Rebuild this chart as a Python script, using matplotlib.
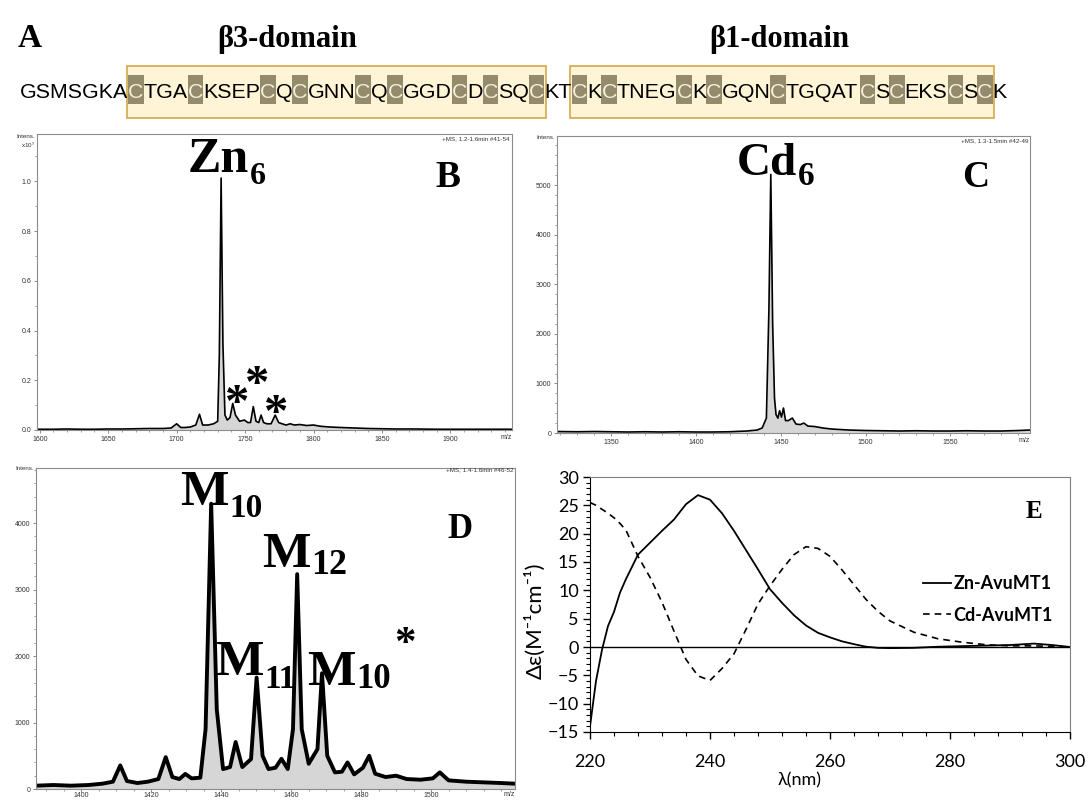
import numpy as np
import matplotlib.pyplot as plt
from matplotlib.patches import Rectangle
from matplotlib.font_manager import FontProperties, findfont
from matplotlib.ft2font import FT2Font
from matplotlib.ticker import MultipleLocator, FixedLocator

W, H = 1089, 801
plt.rcParams['font.family'] = 'Liberation Sans'
plt.rcParams['mathtext.fontset'] = 'stix'

# protein sequence with the two cysteine-rich domains (start, end index)
sequence = "GSMSGKACTGACKSEPCQCGNNCQCGGDCDCSQCKTCKCTNEGCKCGQNCTGQATCSCEKSCSCK"
domain_spans = [(7, 34), (36, 64)]
domain_names = ["β3-domain", "β1-domain"]

# ESI-MS spectrum, Zn-loaded protein (intensity x10^5)
mz_zn = [1598, 1610, 1620, 1630, 1640, 1650, 1660, 1670, 1680, 1690,
         1696, 1700, 1703, 1706, 1710, 1714, 1716.7, 1719, 1723, 1727,
         1730, 1731.2, 1732.5, 1733.8, 1735.3, 1737, 1739, 1741, 1743, 1746,
         1749.5, 1752, 1754, 1756, 1758, 1760, 1761.7, 1763.5, 1766, 1769,
         1772, 1774.5, 1777, 1780, 1783, 1786, 1790, 1795, 1800, 1805,
         1812, 1820, 1830, 1840, 1850, 1860, 1875, 1890, 1905, 1920,
         1935, 1945]
int_zn = [0.003, 0.003, 0.004, 0.003, 0.003, 0.004, 0.004, 0.005, 0.006, 0.006,
          0.008, 0.025, 0.01, 0.01, 0.012, 0.02, 0.063, 0.02, 0.02, 0.025,
          0.035, 0.3, 1.013, 0.35, 0.06, 0.04, 0.05, 0.107, 0.06, 0.035,
          0.04, 0.03, 0.03, 0.094, 0.035, 0.03, 0.06, 0.03, 0.025, 0.025,
          0.06, 0.03, 0.025, 0.02, 0.025, 0.02, 0.022, 0.018, 0.02, 0.015,
          0.012, 0.01, 0.008, 0.006, 0.005, 0.004, 0.004, 0.003, 0.003, 0.003,
          0.003, 0.003]

# ESI-MS spectrum, Cd-loaded protein
mz_cd = [1318, 1330, 1340, 1350, 1360, 1370, 1380, 1390, 1400, 1410,
         1420, 1430, 1436, 1439, 1441.5, 1443, 1444.1, 1445.2, 1446.3, 1447.2,
         1448.3, 1449.3, 1450.4, 1451.6, 1452.8, 1454.5, 1456.8, 1459, 1461.5, 1463.6,
         1466, 1470, 1475, 1480, 1490, 1500, 1510, 1520, 1530, 1540,
         1550, 1560, 1570, 1580, 1590, 1597]
int_cd = [30, 25, 30, 25, 20, 25, 20, 25, 20, 20,
          25, 40, 60, 100, 300, 2500, 5214, 2200, 700, 370,
          300, 450, 320, 503, 250, 250, 302, 180, 170, 200,
          140, 130, 100, 80, 60, 50, 45, 40, 45, 40,
          40, 45, 40, 40, 50, 60]

# ESI-MS spectrum, mixed species
mz_mix = [1387, 1392, 1397, 1402, 1406, 1409, 1411.1, 1413, 1416, 1419,
          1422, 1424.1, 1426, 1428, 1429.7, 1431.5, 1434, 1435.5, 1437.1, 1438.7,
          1440.5, 1442.5, 1444.1, 1446, 1448.5, 1450.1, 1451.8, 1453.5, 1455.5, 1457.2,
          1459, 1460.5, 1461.7, 1463, 1465, 1467.5, 1468.8, 1470.3, 1472.5, 1474.5,
          1476.1, 1478, 1480.5, 1482.3, 1484, 1487, 1490, 1493, 1497, 1500.5,
          1502.5, 1505, 1510, 1515, 1520, 1524]
int_mix = [50, 60, 50, 60, 80, 110, 355, 120, 90, 110,
           150, 480, 180, 150, 227, 160, 170, 900, 4293, 1200,
           300, 330, 707, 330, 450, 1677, 500, 300, 320, 455,
           300, 900, 3233, 900, 380, 600, 1742, 500, 250, 260,
           400, 220, 320, 500, 230, 180, 200, 150, 140, 160,
           250, 130, 110, 100, 90, 80]

# CD spectra
wavelength = [220, 221, 222, 223, 224, 225, 226, 228, 230, 232,
              234, 236, 238, 240, 242, 244, 246, 248, 250, 252,
              254, 256, 258, 260, 262, 264, 266, 268, 270, 274,
              278, 282, 286, 290, 294, 297, 300]
cd_zn = [-14, -6, -0.5, 3.7, 6.2, 9.6, 12, 16.3, 18.4, 20.5,
         22.5, 25.2, 26.8, 26.0, 23.6, 20.5, 17.1, 13.7, 10.2, 7.8,
         5.6, 3.8, 2.5, 1.7, 1.0, 0.5, 0.05, -0.15, -0.2, -0.15,
         0.05, 0.15, 0.25, 0.35, 0.6, 0.35, 0.0]
cd_cd = [25.5, 25.0, 24.3, 23.6, 22.8, 21.8, 20.6, 16.0, 12.3, 7.9,
         2.8, -2.2, -5.1, -5.9, -3.8, -1.2, 3.1, 7.6, 10.8, 13.7,
         16.3, 17.7, 17.4, 16.0, 13.6, 11.0, 8.4, 6.3, 4.6, 2.6,
         1.45, 0.85, 0.4, 0.2, 0.2, 0.1, 0.0]

fig = plt.figure(figsize=(W / 100, H / 100), dpi=100)
renderer = fig.canvas.get_renderer()


def px_axes(x0, y0, x1, y1):
    return fig.add_axes([x0 / W, 1 - y1 / H, (x1 - x0) / W, (y1 - y0) / H])


def ms_panel(ax, mz, inten, xlim, ylim, xticks, xminor, yticks, yminor, lw, fmt):
    ax.fill_between(mz, inten, color='#d6d6d6', lw=0)
    ax.plot(mz, inten, color='black', lw=lw)
    ax.set_xlim(xlim)
    ax.set_ylim(ylim)
    ax.xaxis.set_major_locator(FixedLocator(xticks))
    ax.xaxis.set_minor_locator(MultipleLocator(xminor))
    ax.yaxis.set_major_locator(FixedLocator(yticks))
    ax.yaxis.set_minor_locator(MultipleLocator(yminor))
    ax.set_yticklabels([fmt.format(v) for v in yticks])
    for s in ax.spines.values():
        s.set_color('#8c8c8c')
        s.set_linewidth(0.8)
    ax.tick_params(labelsize=5, color='#777777', labelcolor='#333333',
                   length=2.5, width=0.6, pad=1.5)
    ax.tick_params(which='minor', color='#777777', length=1.5, width=0.5)
    ax.text(1.0, -0.012, 'm/z', transform=ax.transAxes, ha='right', va='top',
            fontsize=5, color='#333333')


# overlay in pixel coordinates for the sequence and labels
ov = fig.add_axes([0, 0, 1, 1])
ov.set_xlim(0, W)
ov.set_ylim(H, 0)
ov.axis('off')
ov.set_zorder(5)

# glyph advances of the sequence font, used to lay out the letters
fp = FontProperties(family='Liberation Sans')
ft = FT2Font(findfont(fp))
ft.set_size(10, 72)
adv = np.array([ft.load_char(ord(ch)).linearHoriAdvance / 65536 for ch in sequence])
scale = (1007 - 20) / adv.sum()
widths = adv * scale
seq_size = 10 * scale * 72 / 100
xpos = np.concatenate([[20], 20 + np.cumsum(widths)[:-1]])

for start, end in domain_spans:
    x0 = xpos[start] - 1.5
    x1 = xpos[end - 1] + widths[end - 1] + 1.5
    ov.add_patch(Rectangle((x0, 66), x1 - x0, 52, fc='#fff4d6', ec='#d4a84a', lw=1.2))

inside = set()
for start, end in domain_spans:
    inside.update(range(start, end))
marked = [ch == 'C' and i in inside for i, ch in enumerate(sequence)]

# plain letters are drawn in runs, marked cysteines one by one on a dark tile
seq_font = dict(ha='left', va='baseline', fontsize=seq_size, family='Liberation Sans')
i = 0
while i < len(sequence):
    if marked[i]:
        ov.add_patch(Rectangle((xpos[i], 75), widths[i], 29, fc='#948a6c', ec='none'))
        ov.text(xpos[i], 98, sequence[i], color='#f4efd9', **seq_font)
        i += 1
        continue
    j = i
    while j < len(sequence) and not marked[j]:
        j += 1
    ov.text(xpos[i], 98, sequence[i:j], color='black', **seq_font)
    i = j

serif = dict(family='Liberation Serif', weight='bold', va='baseline')
ov.text(18, 47, 'A', fontsize=24, ha='left', **serif)
ov.text(287, 47, domain_names[0], fontsize=22, ha='center', **serif)
ov.text(779, 47, domain_names[1], fontsize=22, ha='center', **serif)


def sub_label(x, y, main, sub, size, sub_size, drop):
    t = ov.text(x, y, main, fontsize=size, ha='left', **serif)
    bb = t.get_window_extent(renderer)
    ov.text(bb.x1 + 1, y + drop, sub, fontsize=sub_size, ha='left', **serif)


# panel B
axb = px_axes(37, 134, 512, 430)
ms_panel(axb, mz_zn, int_zn, (1598, 1945), (0, 1.19),
         [1600, 1650, 1700, 1750, 1800, 1850, 1900], 10,
         [0, 0.2, 0.4, 0.6, 0.8, 1.0], 0.1, 1.2, '{:.1f}')
# panel C
axc = px_axes(557, 136, 1030, 433)
ms_panel(axc, mz_cd, int_cd, (1318, 1597), (0, 5990),
         [1350, 1400, 1450, 1500, 1550], 10,
         [0, 1000, 2000, 3000, 4000, 5000], 200, 1.2, '{:.0f}')
# panel D
axd = px_axes(36, 468, 515, 789)
ms_panel(axd, mz_mix, int_mix, (1387, 1524), (0, 4830),
         [1400, 1420, 1440, 1460, 1480, 1500], 5,
         [0, 1000, 2000, 3000, 4000], 200, 2.8, '{:.0f}')
axd.tick_params(axis='x', length=2, pad=0.5)
axd.texts[-1].set_y(-0.006)

small = dict(fontsize=4.5, color='#333333', family='Liberation Sans')
ov.text(35, 138, 'Intens.', ha='right', va='baseline', **small)
ov.text(35, 148, 'x10$^{5}$', ha='right', va='baseline', **small)
ov.text(510, 140, '+MS, 1.2-1.6min #41-54', ha='right', va='baseline', **small)
ov.text(555, 139, 'Intens.', ha='right', va='baseline', **small)
ov.text(1028, 142, '+MS, 1.3-1.5min #42-49', ha='right', va='baseline', **small)
ov.text(34, 470, 'Intens.', ha='right', va='baseline', **small)
ov.text(513, 471, '+MS, 1.4-1.6min #46-52', ha='right', va='baseline', **small)

# peak labels
sub_label(188, 172, 'Zn', '6', 36, 23, 12)
sub_label(737, 175, 'Cd', '6', 34, 24, 10)
sub_label(180, 505, 'M', '10', 37, 24, 12)
sub_label(215, 675, 'M', '11', 37, 24, 13)
sub_label(262, 567, 'M', '12', 37, 26, 7)
sub_label(307, 685, 'M', '10', 37, 25, 3)
ov.text(405, 655, '*', fontsize=31, ha='center', **serif)
for cx, by in [(237, 417), (257, 398), (276, 427)]:
    ov.text(cx, by, '*', fontsize=35, ha='center', **serif)

ov.text(435, 187, 'B', fontsize=27, ha='left', **serif)
ov.text(962, 187, 'C', fontsize=27, ha='left', **serif)
ov.text(447, 538, 'D', fontsize=25, ha='left', **serif)
ov.text(1026, 518, 'E', fontsize=18, ha='left', **serif)

# panel E: CD spectra
axe = px_axes(590, 477, 1070, 732)
axe.plot(wavelength, cd_zn, color='black', lw=1.3, label='Zn-AvuMT1')
axe.plot(wavelength, cd_cd, color='black', lw=1.2, ls=(0, (4, 3)), label='Cd-AvuMT1')
axe.axhline(0, color='black', lw=1.0)
axe.set_xlim(220, 300)
axe.set_ylim(-15, 30)
axe.xaxis.set_major_locator(MultipleLocator(20))
axe.xaxis.set_minor_locator(MultipleLocator(4))
axe.yaxis.set_major_locator(MultipleLocator(5))
axe.yaxis.set_minor_locator(MultipleLocator(1))
axe.tick_params(axis='x', labelsize=13, length=5, width=1, pad=11)
axe.tick_params(axis='y', labelsize=13, length=5, width=1, pad=3)
axe.tick_params(which='minor', length=3, width=0.8)
for lbl in axe.get_xticklabels() + axe.get_yticklabels():
    lbl.set_family('Lato')
axe.spines['left'].set_color('black')
axe.spines['bottom'].set_color('black')
axe.spines['top'].set_color('#808080')
axe.spines['right'].set_color('#808080')
axe.set_xlabel('λ(nm)', family='Lato', fontsize=13)
axe.xaxis.set_label_coords(0.4375, -0.16)
axe.set_ylabel('Δε(M⁻¹cm⁻¹)', family=['Lato', 'DejaVu Sans'], fontsize=16)
axe.yaxis.set_label_coords(-0.093, 0.435)
axe.legend(loc='center left', bbox_to_anchor=(0.694, 0.52), frameon=False,
           handlelength=1.55, handletextpad=0.12, labelspacing=0.8,
           borderpad=0, borderaxespad=0,
           prop={'family': 'Lato', 'weight': 'bold', 'size': 13})

fig.savefig('out.png', dpi=100)
